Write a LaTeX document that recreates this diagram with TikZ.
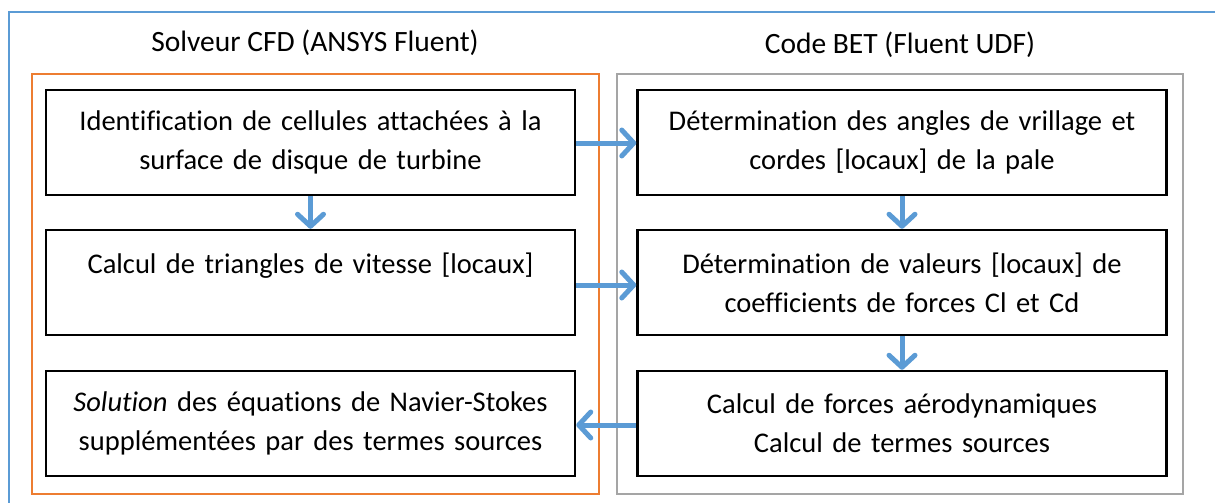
\documentclass[tikz,border=0pt]{standalone}
\usepackage{fontspec}
\setmainfont{Carlito}[Ligatures=NoCommon]
\usetikzlibrary{arrows.meta}
\definecolor{wblue}{HTML}{5B9BD5}
\definecolor{worange}{HTML}{ED7D31}
\definecolor{wgray}{HTML}{A5A5A5}
\tikzset{
  stepbox/.style={draw=black, line width=2.5pt, minimum width=529pt, minimum height=105pt, inner sep=0pt, text width=525pt, align=center, font=\fontsize{28.5}{39}\selectfont},
  flow/.style={draw=wblue, line width=5pt, -{Straight Barb[length=12pt,width=26pt,line cap=round,line join=round]}},
  title/.style={font=\fontsize{29.5}{36}\selectfont, inner sep=0pt}
}
\begin{document}
\begin{tikzpicture}[x=1pt,y=-1pt]
\useasboundingbox (0,0) rectangle (1215,503);
\draw[wblue, line width=2pt] (9,503) -- (9,12) -- (1215,12);
\draw[worange, line width=2.5pt] (32,74) rectangle (599,494);
\draw[wgray, line width=2.5pt] (617,74) rectangle (1183,494);
\node[title] (t1) at (315,43) {Solveur CFD (ANSYS Fluent)};
\node[title] (t2) at (900,45) {Code BET (Fluent UDF)};
\node[stepbox] (l1) at (310.5,142.5) {Identification de cellules attachées à la\\surface de disque de turbine};
\node[stepbox] (l2) at (310.5,282.5) {Calcul de triangles de vitesse [locaux]\\\mbox{}};
\node[stepbox] (l3) at (310.5,423.5) {\textit{Solution} des équations de Navier-Stokes\\supplémentées par des termes sources};
\node[stepbox] (r1) at (902,142.5) {Détermination des angles de vrillage et\\cordes [locaux] de la pale};
\node[stepbox] (r2) at (902,282.5) {Détermination de valeurs [locaux] de\\coefficients de forces Cl et Cd};
\node[stepbox] (r3) at (902,423.5) {Calcul de forces aérodynamiques\\Calcul de termes sources};
\draw[flow] (l1.east |- 0,143) -- (r1.west |- 0,143);
\draw[flow] (l2.east |- 0,285) -- (r2.west |- 0,285);
\draw[flow] (r3.west |- 0,425) -- (l3.east |- 0,425);
\draw[flow] (l1.south) -- (l2.north);
\draw[flow] (r1.south) -- (r2.north);
\draw[flow] (r2.south) -- (r3.north);
\end{tikzpicture}
\end{document}
